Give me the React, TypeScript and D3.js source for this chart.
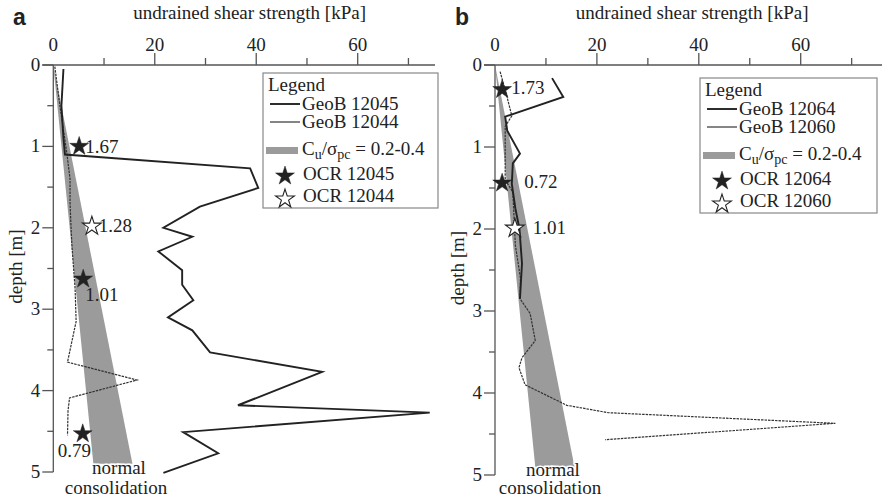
import React from 'react';
import * as d3 from 'd3';

// [undrained shear strength kPa, depth m]
const geob12045 = [
  [2.0, 0.05], [1.6, 0.5], [2.0, 0.9], [2.3, 1.1], [38.8, 1.27], [40.4, 1.51],
  [28.9, 1.74], [21.7, 2.0], [27.4, 2.11], [20.7, 2.29], [25.4, 2.52], [25.4, 2.7],
  [27.6, 2.89], [22.6, 3.1], [27.4, 3.26], [30.9, 3.53], [53.0, 3.77], [36.4, 4.18],
  [74.2, 4.27], [25.6, 4.51], [32.5, 4.77], [21.7, 5.01],
];
const geob12044 = [
  [0.3, 0.02], [1.3, 0.5], [2.7, 1.1], [3.3, 1.4], [3.3, 1.7], [3.5, 2.0],
  [3.7, 2.25], [4.3, 2.75], [4.5, 3.15], [2.8, 3.65], [16.5, 3.87], [3.2, 4.09],
  [2.9, 4.25], [2.8, 4.55],
];
const geob12064 = [
  [11.2, 0.16], [13.4, 0.39], [2.0, 0.63], [2.4, 0.8], [4.9, 1.08], [3.5, 1.2],
  [3.3, 1.45], [4.0, 1.75], [4.8, 2.0], [5.3, 2.42], [4.9, 2.85],
];
const geob12060 = [
  [1.0, 0.08], [2.2, 0.35], [3.3, 0.62], [2.0, 0.75], [2.0, 1.4], [3.5, 1.55],
  [4.0, 2.2], [5.0, 2.6], [4.9, 2.85], [6.9, 3.03], [7.9, 3.36], [5.3, 3.57],
  [4.7, 3.69], [5.9, 3.9], [14.1, 4.15], [22.2, 4.24], [66.8, 4.37], [21.6, 4.57],
];

// normal consolidation band: Cu/σpc = 0.2 - 0.4 (left / right edge at the band base)
const bandDepths = [0, 4.9];
const bandLow = [0, 7.9];
const bandHigh = [0, 15.6];

// OCR points: [kPa, depth, label]
const ocrA12045 = [[5.1, 1.0, '1.67'], [5.9, 2.63, '1.01'], [5.8, 4.53, '0.79']];
const ocrA12044 = [[7.6, 1.98, '1.28']];
const ocrB12064 = [[1.4, 0.3, '1.73'], [1.4, 1.44, '0.72']];
const ocrB12060 = [[3.9, 1.99, '1.01']];

const xTicksMajor = [0, 20, 40, 60];
const xTicksMinor = [10, 30, 50, 70];
const yTicksMajor = [0, 1, 2, 3, 4, 5];
const yTicksMinor = [0.5, 1.5, 2.5, 3.5, 4.5];

const SERIF = 'Liberation Serif, Times New Roman, serif';
const INK = '#222';
const AXIS = '#555';

type Pt = (number | string)[];

const starPath = d3.symbol().type(d3.symbolStar).size(110)() as string;

function Star({ x, y, filled }: { x: number; y: number; filled: boolean }) {
  return (
    <path
      d={starPath}
      transform={`translate(${x},${y})`}
      fill={filled ? INK : '#fff'}
      stroke={INK}
      strokeWidth={filled ? 0.5 : 1.1}
    />
  );
}

function Panel(props: {
  letter: string;
  left: number;
  x0: number;
  x60: number;
  axisEnd: number;
  yBottom: number;
  solid: number[][];
  thin: number[][];
  filledStars: Pt[];
  openStars: Pt[];
  labelOffsets: number[][];
  names: string[];
  legendX: number;
  legendY: number;
  legendW: number;
  ncX: number;
}) {
  const x = d3.scaleLinear().domain([0, 60]).range([props.x0, props.x60]);
  const y = d3.scaleLinear().domain([0, 5]).range([65, props.yBottom]);
  const line = d3.line<number[]>().x(d => x(d[0])).y(d => y(d[1]));
  const band = d3.area<number>()
    .y(d => y(d))
    .x0((_, i) => x(bandLow[i]))
    .x1((_, i) => x(bandHigh[i]));
  const stars = [
    ...props.filledStars.map(s => ({ s, filled: true })),
    ...props.openStars.map(s => ({ s, filled: false })),
  ];
  const lx = props.legendX;
  const ly = props.legendY;
  const titleX = x(38.7);
  return (
    <g fontFamily={SERIF}>
      <text x={props.left + 5} y={25} fontFamily="Liberation Sans, Arial, sans-serif"
        fontWeight="bold" fontSize={23} fill={INK}>{props.letter}</text>
      <text x={titleX} y={19} textAnchor="middle" fontSize={19} fill={INK}>
        undrained shear strength [kPa]
      </text>
      <text transform={`translate(${props.x0 - 31},${(65 + props.yBottom) / 2 - 2}) rotate(-90)`}
        textAnchor="middle" fontSize={19} fill={INK}>depth [m]</text>

      <path d={band(bandDepths) as string} fill="#9b9b9b" />

      {/* axes */}
      <line x1={props.x0 - 11} x2={props.axisEnd} y1={65} y2={65} stroke={AXIS} strokeWidth={1.3} />
      <line x1={props.x0} x2={props.x0} y1={65} y2={props.yBottom} stroke={AXIS} strokeWidth={1.3} />
      {xTicksMajor.map(t => (
        <g key={'xm' + t}>
          {t > 0 && <line x1={x(t)} x2={x(t)} y1={53} y2={65} stroke={AXIS} strokeWidth={1.3} />}
          <text x={x(t)} y={51} textAnchor="middle" fontSize={19} fill={INK}>{t}</text>
        </g>
      ))}
      {xTicksMinor.map(t => (
        <line key={'xn' + t} x1={x(t)} x2={x(t)} y1={58} y2={65} stroke={AXIS} strokeWidth={1.3} />
      ))}
      {yTicksMajor.map(t => (
        <g key={'ym' + t}>
          <line x1={props.x0 - 11} x2={props.x0} y1={y(t)} y2={y(t)} stroke={AXIS} strokeWidth={1.3} />
          <text x={props.x0 - 13} y={y(t) + 6} textAnchor="end" fontSize={19} fill={INK}>{t}</text>
        </g>
      ))}
      {yTicksMinor.map(t => (
        <line key={'yn' + t} x1={props.x0 - 6} x2={props.x0} y1={y(t)} y2={y(t)} stroke={AXIS} strokeWidth={1.3} />
      ))}

      {/* profiles */}
      <path d={line(props.thin) as string} fill="none" stroke="#333" strokeWidth={1.2} strokeDasharray="2.5,1" />
      <path d={line(props.solid) as string} fill="none" stroke={INK} strokeWidth={1.9} />

      {/* normal consolidation label */}
      <text x={props.ncX} y={Math.min(y(4.94) + 7, 476)} textAnchor="middle" fontSize={19}
        fill={INK} stroke="#fff" strokeWidth={3} paintOrder="stroke">normal</text>
      <text x={props.ncX - 3} y={Math.min(y(4.94) + 29, 494)} textAnchor="middle" fontSize={19}
        fill={INK}>consolidation</text>

      {/* OCR */}
      {stars.map(({ s, filled }, i) => (
        <g key={'st' + i}>
          <Star x={x(s[0] as number)} y={y(s[1] as number)} filled={filled} />
          <text x={x(s[0] as number) + props.labelOffsets[i][0]} y={y(s[1] as number) + props.labelOffsets[i][1]}
            fontSize={19} fill={INK}>{s[2]}</text>
        </g>
      ))}

      {/* legend */}
      <rect x={lx} y={ly} width={props.legendW} height={135} fill="#fff" stroke="#888" strokeWidth={1.2} />
      <text x={lx + 5} y={ly + 18} fontSize={19} fill={INK}>Legend</text>
      <line x1={lx + 7} x2={lx + 37} y1={ly + 31} y2={ly + 31} stroke={INK} strokeWidth={1.9} />
      <text x={lx + 39} y={ly + 37} fontSize={19} fill={INK}>{props.names[0]}</text>
      <line x1={lx + 7} x2={lx + 37} y1={ly + 49} y2={ly + 49} stroke="#333" strokeWidth={1.2} />
      <text x={lx + 39} y={ly + 55} fontSize={19} fill={INK}>{props.names[1]}</text>
      <rect x={lx + 3} y={ly + 74} width={32} height={7} fill="#9b9b9b" />
      <text x={lx + 39} y={ly + 82} fontSize={19} fill={INK}>
        <tspan>C</tspan>
        <tspan dy={4} fontSize={14}>u</tspan>
        <tspan dy={-4}>/σ</tspan>
        <tspan dy={4} fontSize={14}>pc</tspan>
        <tspan dy={-4}> = 0.2-0.4</tspan>
      </text>
      <Star x={lx + 22} y={ly + 103} filled={true} />
      <text x={lx + 40} y={ly + 107} fontSize={19} fill={INK}>{'OCR ' + props.names[0].slice(5)}</text>
      <Star x={lx + 22} y={ly + 126} filled={false} />
      <text x={lx + 40} y={ly + 129} fontSize={19} fill={INK}>{'OCR ' + props.names[1].slice(5)}</text>
    </g>
  );
}

export default function App() {
  return (
    <svg width={882} height={500} style={{ position: 'absolute', left: 0, top: 0, background: '#fff' }}>
      <Panel
        letter="a" left={8} x0={53.3} x60={357.7} axisEnd={435} yBottom={472}
        solid={geob12045} thin={geob12044}
        filledStars={ocrA12045} openStars={ocrA12044}
        labelOffsets={[[6, 7], [2, 22], [-25, 23], [7, 6]]}
        names={['GeoB 12045', 'GeoB 12044']}
        legendX={263} legendY={73} legendW={175} ncX={119}
      />
      <Panel
        letter="b" left={450} x0={495} x60={800.7} axisEnd={882} yBottom={475}
        solid={geob12064} thin={geob12060}
        filledStars={ocrB12064} openStars={ocrB12060}
        labelOffsets={[[9, 4], [22, 5], [18, 6]]}
        names={['GeoB 12064', 'GeoB 12060']}
        legendX={700} legendY={78} legendW={177} ncX={553}
      />
    </svg>
  );
}
